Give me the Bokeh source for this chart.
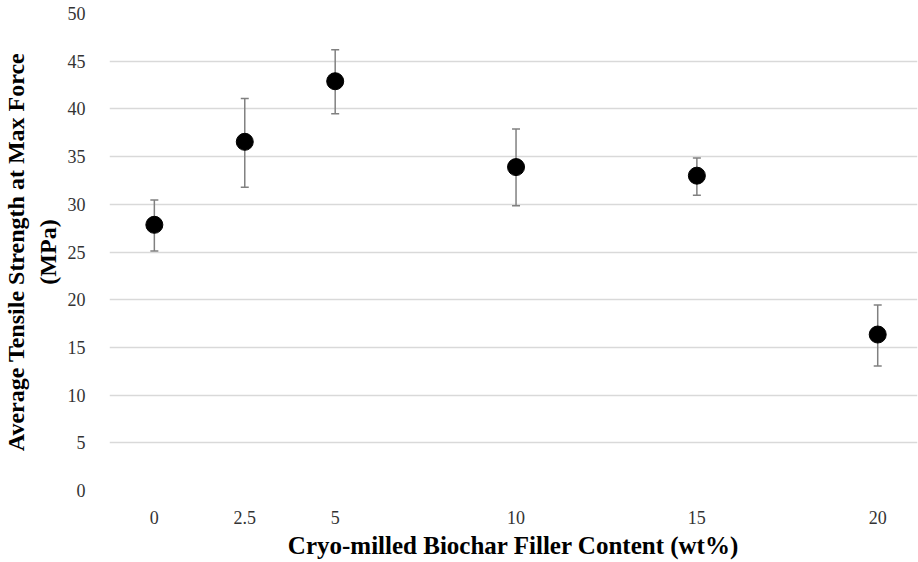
from bokeh.plotting import figure
from bokeh.models import FixedTicker, Range1d, Whisker, ColumnDataSource
from bokeh.embed import file_html
from bokeh.resources import INLINE

filler = [0, 2.5, 5, 10, 15, 20]
strength = [27.85, 36.55, 42.9, 33.9, 33.0, 16.35]
upper = [30.45, 41.1, 46.2, 37.9, 34.85, 19.45]
lower = [25.1, 31.8, 39.5, 29.85, 30.95, 13.05]
y_ticks = [0, 5, 10, 15, 20, 25, 30, 35, 40, 45, 50]
x_ticks = filler

src = ColumnDataSource(dict(x=filler, y=strength, up=upper, lo=lower))

p = figure(width=918, height=561, output_backend="svg", toolbar_location=None,
           x_range=Range1d(-1.24, 21.1), y_range=Range1d(0, 50),
           min_border_left=106, min_border_right=1, min_border_top=13, min_border_bottom=71)
p.outline_line_color = None
p.background_fill_color = "white"

w = Whisker(source=src, base="x", upper="up", lower="lo",
            line_color="#808080", line_width=1.5)
w.upper_head.size = 8
w.lower_head.size = 8
w.upper_head.line_color = "#808080"
w.lower_head.line_color = "#808080"
w.upper_head.line_width = 1.5
w.lower_head.line_width = 1.5
p.add_layout(w)

p.scatter("x", "y", source=src, size=17, color="black")

p.xaxis.ticker = FixedTicker(ticks=x_ticks)
p.yaxis.ticker = FixedTicker(ticks=y_ticks)
p.xaxis.major_label_overrides = {2.5: "2.5"}
p.xgrid.grid_line_color = None
p.ygrid.grid_line_color = "#d9d9d9"
p.ygrid.grid_line_width = 1.3

for ax in (p.xaxis, p.yaxis):
    ax.axis_line_color = None
    ax.major_tick_line_color = None
    ax.minor_tick_line_color = None
    ax.major_label_text_font = "Liberation Serif"
    ax.major_label_text_font_size = "18px"
    ax.major_label_text_color = "#333333"
    ax.axis_label_text_font = "Liberation Serif"
    ax.axis_label_text_font_style = "bold"
    ax.axis_label_text_color = "black"

p.xaxis.axis_label_text_font_size = "25px"
p.yaxis.axis_label_text_font_size = "24px"
p.xaxis.major_label_standoff = 14
p.yaxis.major_label_standoff = 18
p.xaxis.axis_label = "Cryo-milled Biochar Filler Content (wt%)"
p.yaxis.axis_label = "Average Tensile Strength at Max Force\n(MPa)"
p.xaxis.axis_label_standoff = 5
p.yaxis.axis_label_standoff = 4

open("out.html", "w").write(file_html(p, INLINE))
